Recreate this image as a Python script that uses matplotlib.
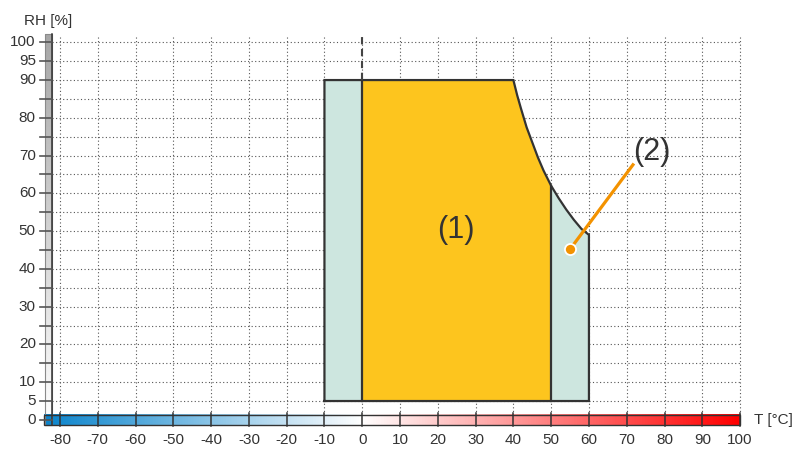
import matplotlib.pyplot as plt
import numpy as np
from matplotlib.colors import LinearSegmentedColormap
from matplotlib.patches import Polygon, Rectangle

plt.rcParams['font.family'] = ['Liberation Sans', 'DejaVu Sans']

# data
t_ticks = list(range(-80, 101, 10))
rh_ticks = list(range(0, 101, 5))
rh_labels = [0, 5, 10, 20, 30, 40, 50, 60, 70, 80, 90, 95, 100]
rh_grid = list(range(5, 101, 5))

t_ext_low = -10     # extended range (2), cold side
t_low = 0           # normal range (1)
t_high = 50
t_ext_high = 60     # extended range (2), warm side
rh_low = 5
rh_high = 90

# upper limit curve (T, RH) from 40 °C to 60 °C
curve_t = [40, 41, 42, 43.5, 45, 46.5, 48, 50, 52, 54, 56, 58, 60]
curve_rh = [90, 86, 82.5, 77.5, 73.5, 69.5, 66, 62, 58.7, 55.7, 53, 50.6, 49]

label_1 = (24.8, 50.3)
label_2 = (76.7, 70.9)
pointer_2 = [(55.0, 45.2), (71.9, 67.9)]

GREEN = "#cde6df"
ORANGE = "#fdc51e"
EDGE = "#333333"
TEXT = "#333333"

fig = plt.figure(figsize=(7.96, 4.5), dpi=100)
ax = fig.add_axes([0, 0, 1, 1])
# 1 px = 1/3.778 °C horizontally, 1/3.776 % vertically
ax.set_xlim(-95.87, 114.8)
ax.set_ylim(-7.97, 111.2)
ax.axis("off")

# grid
for t in t_ticks:
    ax.plot([t, t], [1.3, 101.8], color="#555555", lw=0.8, ls=(0, (1, 2.2)), zorder=1)
for r in rh_grid:
    ax.plot([-82.0, 100], [r, r], color="#555555", lw=0.8, ls=(0, (1, 2.2)), zorder=1)

# regions
split = curve_t.index(t_high)
orange_pts = [(t_low, rh_low), (t_low, rh_high)] + list(zip(curve_t[:split + 1], curve_rh[:split + 1])) + [(t_high, rh_low)]
green_right = [(t_high, rh_low)] + list(zip(curve_t[split:], curve_rh[split:])) + [(t_ext_high, rh_low)]
ax.add_patch(Rectangle((t_ext_low, rh_low), t_low - t_ext_low, rh_high - rh_low, facecolor=GREEN, edgecolor="none", zorder=2))
ax.add_patch(Polygon(orange_pts, closed=True, facecolor=ORANGE, edgecolor="none", zorder=2))
ax.add_patch(Polygon(green_right, closed=True, facecolor=GREEN, edgecolor="none", zorder=2))

outline = [(t_ext_low, rh_low), (t_ext_low, rh_high)] + list(zip(curve_t, curve_rh)) + [(t_ext_high, rh_low), (t_ext_low, rh_low)]
ox, oy = zip(*outline)
ax.plot(ox, oy, color=EDGE, lw=1.6, zorder=3, solid_joinstyle="miter")
ax.plot([t_low, t_low], [rh_low, rh_high], color=EDGE, lw=1.6, zorder=3)
ax.plot([t_high, t_high], [rh_low, curve_rh[split]], color=EDGE, lw=1.6, zorder=3)
ax.plot([t_low, t_low], [rh_high, 101.8], color="#444444", lw=1.5, ls=(0, (3.5, 2.2)), zorder=3)

# labels inside
ax.text(*label_1, "(1)", fontsize=22, color=TEXT, ha="center", va="center", zorder=5)
ax.plot(*zip(*pointer_2), color="#f39200", lw=2.3, zorder=4, solid_capstyle="butt")
ax.plot(*pointer_2[0], "o", color="#f39200", ms=8, mec="white", mew=1.3, zorder=5)
ax.text(*label_2, "(2)", fontsize=22, color=TEXT, ha="center", va="center", zorder=5)

# RH axis bar (gray gradient)
grad = np.linspace(0, 1, 256).reshape(-1, 1)
gray_cmap = LinearSegmentedColormap.from_list("g", ["#ffffff", "#a6a6a6"])
ax.imshow(grad, cmap=gray_cmap, extent=[-83.96, -82.1, -1.3, 102.2], origin="lower", aspect="auto", zorder=2)
ax.add_patch(Rectangle((-83.96, -1.3), 1.86, 103.5, facecolor="none", edgecolor="#8a8a8a", lw=0.8, zorder=3))
ax.plot([-82.0, -82.0], [-1.3, 102.2], color=EDGE, lw=1.1, zorder=4)
for r in rh_ticks:
    ax.plot([-85.3, -82.0], [r, r], color="#555555", lw=1.2, zorder=4)
for r in rh_labels:
    ax.text(-86.4, r, str(r), fontsize=11, color=TEXT, ha="right", va="center")
ax.text(-83.2, 105.6, "RH [%]", fontsize=11, color=TEXT, ha="center", va="center")

# temperature bar (blue - white - red)
t0, t1 = -84.2, 100
temp_cmap = LinearSegmentedColormap.from_list(
    "t", [(0, "#0a84cc"), ((0 - t0) / (t1 - t0), "#ffffff"), (1, "#ff0000")])
ax.imshow(np.linspace(0, 1, 512).reshape(1, -1), cmap=temp_cmap, extent=[t0, t1, -1.35, 1.3], aspect="auto", zorder=2)
ax.add_patch(Rectangle((t0, -1.35), t1 - t0, 2.65, facecolor="none", edgecolor=EDGE, lw=1.0, zorder=3))
for t in t_ticks:
    ax.plot([t, t], [-1.6, 1.8], color=EDGE, lw=1.1, zorder=4)
    ax.text(t, -5.2, str(t), fontsize=11, color=TEXT, ha="center", va="center")
ax.text(103.7, 0, "T [°C]", fontsize=11, color=TEXT, ha="left", va="center")

fig.savefig("out.png", dpi=100)
